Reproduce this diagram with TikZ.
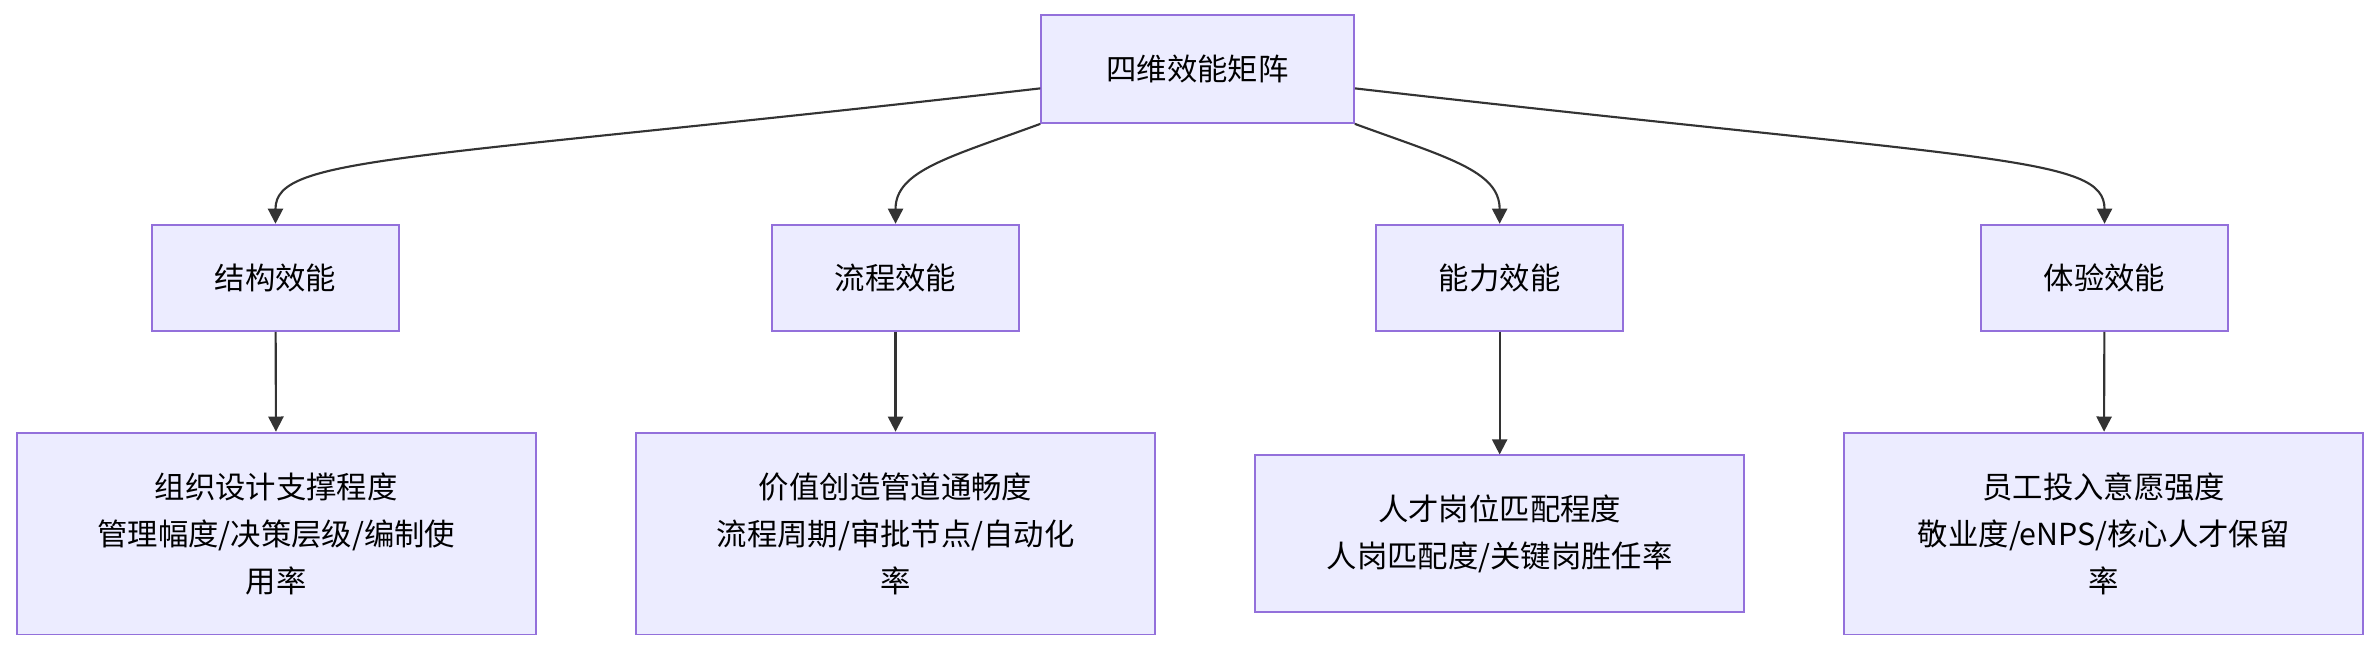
\documentclass[tikz,border=0pt]{standalone}
\usepackage{fontspec}
\setmainfont{Noto Sans CJK SC}
\usetikzlibrary{arrows.meta,positioning,calc}
\definecolor{boxfill}{HTML}{ECECFF}
\definecolor{boxline}{HTML}{9370DB}
\definecolor{arrcol}{HTML}{333333}
\tikzset{
  box/.style={draw=boxline, fill=boxfill, line width=0.6pt, inner sep=0pt, align=center,
    font=\fontsize{10pt}{15.5pt}\selectfont},
  arr/.style={->, >={Triangle[length=5pt,width=5pt]}, draw=arrcol, line width=0.7pt}
}
\begin{document}
\begin{tikzpicture}[x=0.5pt, y=-0.5pt]
  \useasboundingbox (0,0) rectangle (1568,430);
  \node[box, minimum width=103pt, minimum height=35.5pt] (top) at (789,45.5) {四维效能矩阵};

  \node[box, minimum width=81.5pt, minimum height=35pt] (s1) at (181.5,183) {结构效能};
  \node[box, minimum width=81.5pt, minimum height=35pt] (s2) at (590,183) {流程效能};
  \node[box, minimum width=81.5pt, minimum height=35pt] (s3) at (988,183) {能力效能};
  \node[box, minimum width=81.5pt, minimum height=35pt] (s4) at (1386.5,183) {体验效能};

  \node[box, minimum width=171pt, minimum height=66.5pt] (d1) at (182,351.5) {组织设计支撑程度\\管理幅度/决策层级/编制使\\用率};
  \node[box, minimum width=171pt, minimum height=66.5pt] (d2) at (590,351.5) {价值创造管道通畅度\\流程周期/审批节点/自动化\\率};
  \node[box, minimum width=161pt, minimum height=51.5pt] (d3) at (988,351.5) {人才岗位匹配程度\\人岗匹配度/关键岗胜任率};
  \node[box, minimum width=171pt, minimum height=66.5pt] (d4) at (1386,351.5) {员工投入意愿强度\\敬业度/eNPS/核心人才保留\\率};

  % top to dimensions
  \draw[arr] (top.187) .. controls +(-420,48) and +(0,-45) .. (s1.north);
  \draw[arr] (top.south west) .. controls +(-60,22) and +(0,-35) .. (s2.north);
  \draw[arr] (top.south east) .. controls +(60,22) and +(0,-35) .. (s3.north);
  \draw[arr] (top.-7) .. controls +(420,48) and +(0,-45) .. (s4.north);

  % dimensions to details
  \foreach \i in {1,...,4}
    \draw[arr] (s\i) -- (d\i);
\end{tikzpicture}
\end{document}
